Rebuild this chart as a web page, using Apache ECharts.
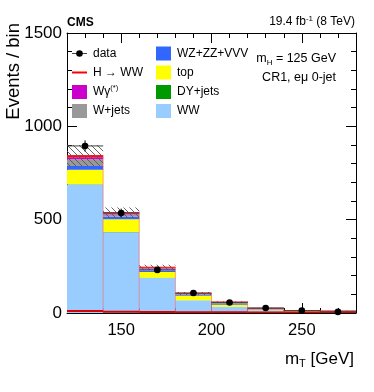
<!DOCTYPE html>
<html><head><meta charset="utf-8">
<script src="https://cdn.jsdelivr.net/npm/echarts@6/dist/echarts.min.js"></script>
<style>html,body{margin:0;padding:0;background:#fff}#c{width:374px;height:392px}</style>
</head><body><div id="c"></div>
<script>
// ---- data ----
const binEdges = [120,140,160,180,200,220,240,260,280];
const wwVals     = [688,433,188,68,33,15,8,6];
const dyVals     = [2,1,1,0.5,0.5,0.3,0.2,0.1];
const topVals    = [77,68,31,22,10,4,2,2];
const wzVals     = [21,13,8,5,4,2,1,1];
const wjetsVals  = [36,13,10,6,7,2,1,1];
const wgVals     = [11,6,4,2,3,1,0.5,0.3];
const hwwVals    = [8,4,3,1.5,1,0.5,0.5,0.3];
const dataVals   = [895,536,231,107,56,27,13,6];
const uncVals    = [57,27,14,8,5,3,2,2];
const xMajorTicks = [150,200,250];

const FONT = '"Liberation Sans", Arial, sans-serif';
const stackDefs = [
  {name:'WW', vals:wwVals, color:'#99ccff'},
  {name:'DY+jets', vals:dyVals, color:'#009900'},
  {name:'top', vals:topVals, color:'#ffff00'},
  {name:'WZ+ZZ+VVV', vals:wzVals, color:'#3366ff'},
  {name:'W+jets', vals:wjetsVals, color:'#999999'},
  {name:'Wγ(*)', vals:wgVals, color:'#cc00cc'},
  {name:'H → WW stacked', vals:hwwVals, color:'#ff0000'}
];

// hatch pattern
const pc = document.createElement('canvas');
pc.width = 6; pc.height = 6;
const g = pc.getContext('2d');
g.strokeStyle = '#555'; g.lineWidth = 0.9;
g.beginPath(); g.moveTo(0,0); g.lineTo(6,6); g.moveTo(-3,3); g.lineTo(3,9); g.moveTo(3,-3); g.lineTo(9,3); g.stroke();
const hatch = {image: pc, repeat: 'repeat'};

function rectRender(fill, stroke) {
  return function(params, api) {
    const p0 = api.coord([api.value(0), api.value(3)]);
    const p1 = api.coord([api.value(1), api.value(2)]);
    return {type:'rect', shape:{x:p0[0], y:p0[1], width:p1[0]-p0[0], height:Math.max(p1[1]-p0[1],0)},
      style:{fill: fill, stroke: stroke || null, lineWidth: stroke ? 1 : 0}};
  };
}

const series = [];
const cum = new Array(wwVals.length).fill(0);
stackDefs.forEach(d => {
  const data = d.vals.map((v,i) => {
    const row = [binEdges[i], binEdges[i+1], cum[i], cum[i]+v];
    cum[i] += v;
    return row;
  });
  series.push({type:'custom', name:d.name, renderItem: rectRender(d.color), data: data,
    encode:{x:[0,1], y:[2,3]}, clip:true, silent:true});
});
// stack outline (pink)
series.push({type:'custom', silent:true, clip:true, encode:{x:[0,1], y:[2,3]},
  data: cum.map((t,i)=>[binEdges[i], binEdges[i+1], 0, t]),
  renderItem: function(params, api){
    const a = api.coord([api.value(0), api.value(3)]);
    const b = api.coord([api.value(1), api.value(3)]);
    const c = api.coord([api.value(1), api.value(2)]);
    return {type:'polyline', shape:{points:[a,b,c]}, style:{stroke:'rgba(255,60,60,0.45)', lineWidth:1, fill:null}};
  }});
// uncertainty hatch
series.push({type:'custom', silent:true, clip:true, encode:{x:[0,1], y:[2,3]},
  data: cum.map((t,i)=>[binEdges[i], binEdges[i+1], t-uncVals[i], t+uncVals[i]]),
  renderItem: rectRender(hatch)});
// stack top red line
series.push({type:'custom', silent:true, clip:true, encode:{x:[0,1], y:[2,3]},
  data: cum.map((t,i)=>[binEdges[i], binEdges[i+1], 0, t]),
  renderItem: function(params, api){
    const a = api.coord([api.value(0), api.value(3)]);
    const b = api.coord([api.value(1), api.value(3)]);
    return {type:'line', shape:{x1:a[0], y1:a[1], x2:b[0], y2:b[1]}, style:{stroke:'#ee2222', lineWidth:1.2}};
  }});
// unstacked H->WW line
series.push({type:'custom', silent:true, clip:true, encode:{x:[0,1], y:[2,3]},
  data: hwwVals.map((v,i)=>[binEdges[i], binEdges[i+1], 0, v]),
  renderItem: function(params, api){
    const a = api.coord([api.value(0), api.value(3)]);
    const b = api.coord([api.value(1), api.value(3)]);
    return {type:'line', shape:{x1:a[0], y1:a[1]-0.5, x2:b[0], y2:b[1]-0.5}, style:{stroke:'#dd0000', lineWidth:2}};
  }});
// data points
series.push({type:'custom', silent:true, clip:false, encode:{x:[0,1], y:[2]},
  data: dataVals.map((v,i)=>[binEdges[i], binEdges[i+1], v, Math.sqrt(v)]),
  renderItem: function(params, api){
    const x0 = api.value(0), x1 = api.value(1), y = api.value(2), e = api.value(3);
    const xc = (x0+x1)/2;
    const L = api.coord([x0,y]), R = api.coord([x1,y]), C = api.coord([xc,y]);
    const U = api.coord([xc,y+e]), D = api.coord([xc,Math.max(y-e,0)]);
    return {type:'group', children:[
      {type:'line', shape:{x1:L[0],y1:L[1],x2:R[0],y2:R[1]}, style:{stroke:'#444', lineWidth:1}},
      {type:'line', shape:{x1:U[0],y1:U[1],x2:D[0],y2:D[1]}, style:{stroke:'#000', lineWidth:1}},
      {type:'circle', shape:{cx:C[0], cy:C[1], r:3.3}, style:{fill:'#000'}}
    ]};
  }});

const axLine = {show:true, lineStyle:{color:'#000', width:1}};
const option = {
  animation:false,
  backgroundColor:'#fff',
  grid:{left:67, right:18, top:33, bottom:79, containLabel:false},
  xAxis:[
    {type:'value', position:'bottom', min:120, max:280, interval:10, axisLine:axLine,
     axisTick:{show:true, inside:true, length:5, lineStyle:{color:'#000'}}, axisLabel:{show:false}, splitLine:{show:false}},
    {type:'value', position:'bottom', min:120, max:280, axisLine:{show:false},
     axisTick:{show:true, inside:true, length:10, customValues:xMajorTicks, lineStyle:{color:'#000'}},
     axisLabel:{show:true, customValues:xMajorTicks, fontSize:16.5, color:'#000', fontFamily:FONT, margin:9}, splitLine:{show:false}},
    {type:'value', position:'top', min:120, max:280, interval:10, axisLine:axLine,
     axisTick:{show:true, inside:true, length:5, lineStyle:{color:'#000'}}, axisLabel:{show:false}, splitLine:{show:false}},
    {type:'value', position:'top', min:120, max:280, axisLine:{show:false},
     axisTick:{show:true, inside:true, length:10, customValues:xMajorTicks, lineStyle:{color:'#000'}},
     axisLabel:{show:false}, splitLine:{show:false}}
  ],
  yAxis:[
    {type:'value', position:'left', min:0, max:1500, interval:500, axisLine:axLine,
     axisTick:{show:true, inside:true, length:10, lineStyle:{color:'#000'}},
     minorTick:{show:true, splitNumber:5, length:5, lineStyle:{color:'#000'}},
     axisLabel:{fontSize:17, color:'#000', fontFamily:FONT, margin:5, formatter: v => String(v)}, splitLine:{show:false}},
    {type:'value', position:'right', min:0, max:1500, interval:500, axisLine:axLine,
     axisTick:{show:true, inside:true, length:10, lineStyle:{color:'#000'}},
     minorTick:{show:true, splitNumber:5, length:5, lineStyle:{color:'#000'}},
     axisLabel:{show:false}, splitLine:{show:false}}
  ],
  series: series,
  graphic: []
};

// texts & legend
const G = option.graphic;
G.push({type:'text', left:67, top:17, style:{text:'CMS', font:'bold 12px '+FONT, fill:'#000'}});
G.push({type:'text', right:19, top:15, style:{
  text:'19.4 fb{sup|-1} (8 TeV)', font:'12px '+FONT, fill:'#000',
  rich:{sup:{fontSize:8, verticalAlign:'top', padding:[0,0,6,0], fontFamily:FONT}}}});
G.push({type:'text', x:14, y:23, rotation:Math.PI/2, style:{text:'Events / bin', font:'18.5px '+FONT, fill:'#000', align:'right', verticalAlign:'middle'}});
G.push({type:'text', x:354, y:359, style:{text:'m{sub|T} [GeV]', font:'17px '+FONT, fill:'#000', align:'right', verticalAlign:'middle',
  rich:{sub:{fontSize:11, padding:[10,0,0,0], fontFamily:FONT}}}});
G.push({type:'text', x:336, y:59, style:{text:'m{sub|H} = 125 GeV', font:'12.5px '+FONT, fill:'#000', align:'right', verticalAlign:'middle',
  rich:{sub:{fontSize:8, padding:[7,0,0,0], fontFamily:FONT}}}});
G.push({type:'text', x:336, y:78, style:{text:'CR1, eμ 0-jet', font:'12.5px '+FONT, fill:'#000', align:'right', verticalAlign:'middle'}});

const legend = [
  {x:72, y:53.5, kind:'data', label:'data'},
  {x:72, y:72.5, kind:'line', color:'#ff0000', label:'H → WW'},
  {x:72, y:92, kind:'box', color:'#cc00cc', label:'Wγ{sup|(*)}'},
  {x:72, y:111, kind:'box', color:'#999999', label:'W+jets'},
  {x:156, y:53.5, kind:'box', color:'#3366ff', label:'WZ+ZZ+VVV'},
  {x:156, y:72.5, kind:'box', color:'#ffff00', label:'top'},
  {x:156, y:92, kind:'box', color:'#009900', label:'DY+jets'},
  {x:156, y:111, kind:'box', color:'#99ccff', label:'WW'}
];
legend.forEach(l => {
  if (l.kind === 'data') {
    G.push({type:'line', shape:{x1:l.x, y1:l.y, x2:l.x+15, y2:l.y}, style:{stroke:'#444', lineWidth:1}});
    G.push({type:'circle', shape:{cx:l.x+7.5, cy:l.y, r:3.3}, style:{fill:'#000'}});
  } else if (l.kind === 'line') {
    G.push({type:'line', shape:{x1:l.x, y1:l.y, x2:l.x+15, y2:l.y}, style:{stroke:l.color, lineWidth:2}});
  } else {
    G.push({type:'rect', shape:{x:l.x, y:l.y-7, width:15, height:14}, style:{fill:l.color}});
  }
  G.push({type:'text', x:l.x+21, y:l.y, style:{text:l.label, font:'12px '+FONT, fill:'#000', verticalAlign:'middle',
    rich:{sup:{fontSize:7.5, padding:[0,0,8,0], fontFamily:FONT}}}});
});

const chart = echarts.init(document.getElementById('c'), null, {renderer:'canvas'});
chart.setOption(option);
</script>
</body></html>
